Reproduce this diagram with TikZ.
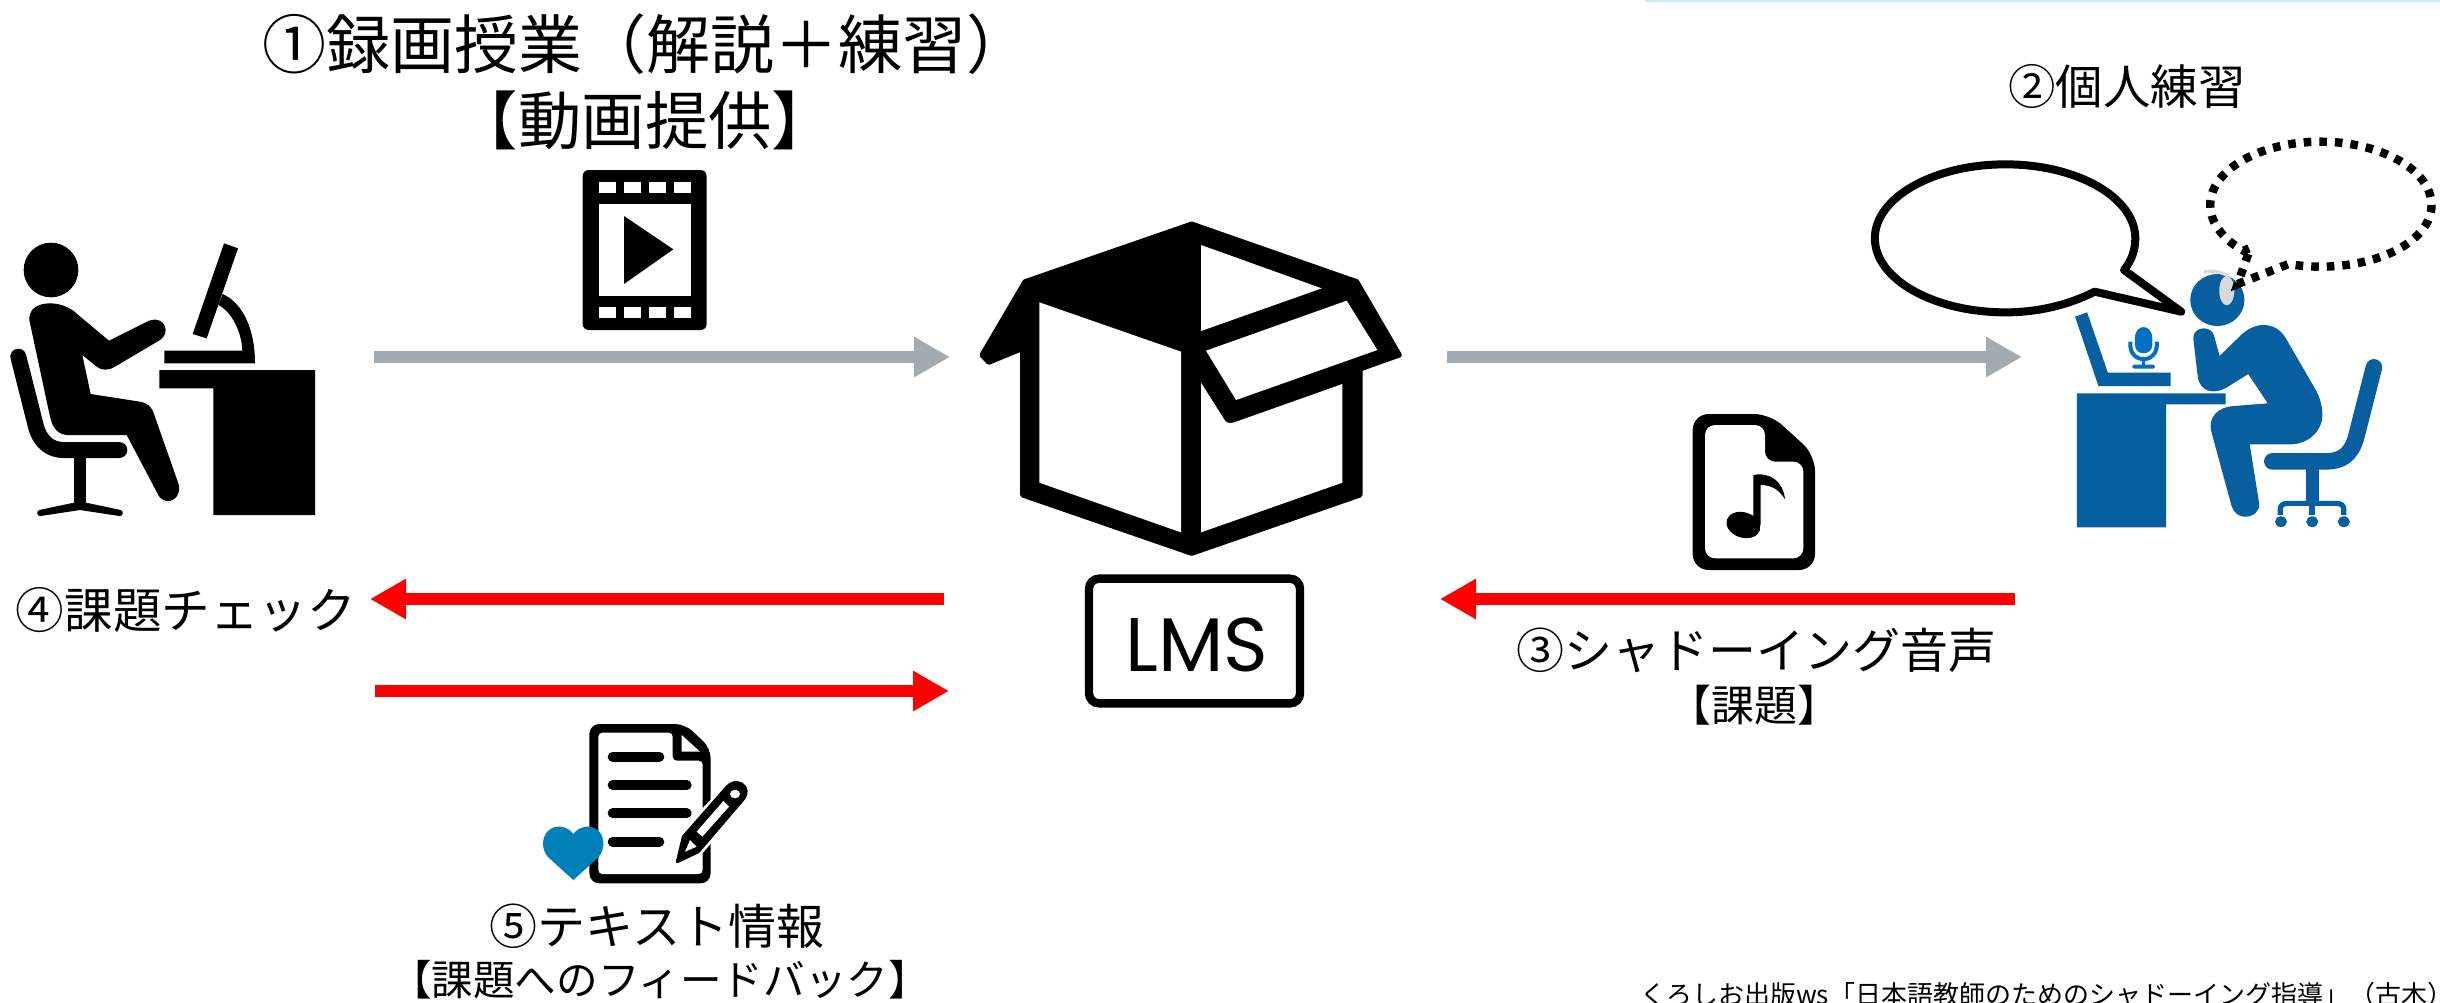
\documentclass[tikz,border=0pt]{standalone}
\usepackage{fontspec}
\setmainfont{Noto Sans CJK JP}
\newfontfamily\lmsfont{Poppins}
\usetikzlibrary{arrows.meta,calc}
\definecolor{bluefig}{HTML}{085FA0}
\definecolor{micblue}{HTML}{0070C0}
\definecolor{heartblue}{HTML}{0080B8}
\definecolor{arrowgrey}{HTML}{A2ABB1}
\definecolor{stripblue}{HTML}{C8EBF9}
\tikzset{
  lbl/.style={inner sep=0pt,outer sep=0pt,text=black,anchor=center},
  greyarrow/.style={draw=arrowgrey,line width=6pt,-{Triangle[length=18pt,width=19pt]}},
  redarrow/.style={draw=red,line width=6pt,-{Triangle[length=18pt,width=19pt]}},
  zthree/.style={x=0.16667pt,y=-0.16667pt},
  zblue/.style={x=0.18818pt,y=-0.16667pt},
}
\begin{document}
\begin{tikzpicture}[x=0.5pt,y=-0.5pt]
\clip (0,0) rectangle (2440,1002);
\fill[white] (0,0) rectangle (2440,1002);
\fill[stripblue] (1645,0) rectangle (2440,2);

% left person
\begin{scope}[shift={(0,220)},zthree]
\fill (153,150) circle[x radius=82,y radius=82];
\fill (88,300) .. controls (86,265) and (115,250) .. (150,250) .. controls (185,250) and (215,265) .. (235,285)
  -- (327,362) -- (445,303) .. controls (475,290) and (497,310) .. (497,328) .. controls (497,345) and (490,352) .. (480,360)
  -- (345,440) .. controls (325,452) and (305,452) .. (290,440) -- (247,405) -- (272,522) -- (420,545)
  .. controls (445,550) and (455,560) .. (463,585) -- (535,790) .. controls (545,820) and (525,843) .. (505,843)
  .. controls (490,843) and (480,835) .. (475,825) -- (380,645) -- (205,645) .. controls (175,645) and (158,625) .. (150,590) -- cycle;
\draw[line width=8pt,line cap=round] (55,410) -- (108,620) .. controls (122,670) and (155,690) .. (190,690) -- (358,690);
\fill (222,700) rectangle (258,855);
\fill (222,848) -- (258,848) -- (362,870) .. controls (372,873) and (370,890) .. (358,888) -- (240,870) -- (122,888) .. controls (110,890) and (108,873) .. (118,870) -- cycle;
\fill (672,70) -- (714,85) -- (620,355) -- (578,342) -- cycle;
\fill (668,222) .. controls (730,250) and (765,330) .. (765,430) -- (493,430) -- (493,392) -- (727,392) .. controls (725,335) and (695,275) .. (655,255) -- cycle;
\fill (478,450) -- (945,450) -- (945,885) -- (640,885) -- (640,505) -- (478,505) -- cycle;
\end{scope}

% film
\begin{scope}[shift={(560,150)},zthree]
\fill[rounded corners=3pt] (68,60) rectangle (440,540);
\foreach \xx in {118,192,267,342}{
  \fill[white] (\xx,95) rectangle ++(50,35);
  \fill[white] (\xx,470) rectangle ++(50,35);
}
\fill[white] (118,162) rectangle (392,437);
\fill (192,198) -- (340,298) -- (192,402) -- cycle;
\end{scope}

% box
\begin{scope}[shift={(960,200)},zthree]
\fill[line join=round,draw=black,line width=2.5pt] (695,72) -- (1190,245) -- (1318,465) -- (1200,507) -- (1200,885) -- (695,1060) -- (188,885) -- (188,445) -- (86,487) -- (66,465) -- (195,245) -- cycle;
\fill[white] (238,307) -- (663,455) -- (663,997) -- (238,848) -- cycle;
\fill[white] (723,135) -- (1085,265) -- (723,393) -- cycle;
\fill[white] (738,452) -- (1160,302) -- (1252,450) -- (828,600) -- cycle;
\fill[white] (723,548) -- (795,662) .. controls (802,670) and (810,670) .. (820,668) -- (1147,552) -- (1147,848) -- (723,997) -- cycle;
\draw[line width=4.2pt,rounded corners=5pt] (387,1136) rectangle (1020,1510);
\node[lbl] (lms) at (710,1335) {\lmsfont\fontsize{38}{38}\selectfont LMS};
\end{scope}

% music file
\begin{scope}[shift={(1670,400)},zthree]
\fill[rounded corners=8pt] (68,42) -- (300,42) -- (435,165) -- (435,510) -- (68,510) -- cycle;
\fill[white,rounded corners=5pt] (105,75) -- (285,75) -- (285,185) -- (400,185) -- (400,475) -- (105,475) -- cycle;
\fill[rotate around={-18:(220,375)}] (220,375) circle[x radius=52,y radius=38];
\fill (250,225) .. controls (300,215) and (340,245) .. (345,298) .. controls (325,265) and (300,255) .. (272,255) -- (272,375) -- (250,375) -- cycle;
\end{scope}

% document
\begin{scope}[shift={(520,700)},zthree]
\fill[rounded corners=5pt] (208,72) -- (495,72) -- (572,145) -- (572,550) -- (208,550) -- cycle;
\fill[white,rounded corners=2pt] (235,98) -- (458,98) -- (458,182) -- (548,182) -- (548,522) -- (235,522) -- cycle;
\fill[white] (485,105) -- (540,155) -- (485,155) -- cycle;
\draw[line width=5pt,line cap=round] (278,170) -- (418,170) (278,255) -- (500,255) (278,340) -- (500,340) (278,425) -- (418,425);
\draw[white,line width=3pt,line join=round] (465,490) -- (485,405) -- (625,255) -- (685,265) -- (670,305) -- (535,460) -- cycle;
\fill[line join=round,draw=black,line width=1.5pt] (472,485) -- (490,410) -- (620,262) .. controls (640,240) and (665,245) .. (675,262) .. controls (682,275) and (678,290) .. (665,303) -- (535,455) -- cycle;
\fill[white] (610,303) -- (627,320) -- (547,410) -- (530,395) -- cycle;
\fill[white] (645,282) circle[x radius=15,y radius=13];
\fill[white] (495,455) -- (510,420) -- (530,440) -- cycle;
\fill[heartblue] (160,540) -- (85,472) .. controls (60,445) and (65,400) .. (95,385) .. controls (120,372) and (148,385) .. (160,402) .. controls (172,385) and (200,372) .. (225,385) .. controls (255,400) and (258,445) .. (235,472) -- cycle;
\end{scope}

% blue person and bubbles
\begin{scope}[shift={(1850,120)},zblue]
\fill[bluefig] (603,820) -- (998,820) -- (998,853) -- (840,853) -- (840,1222) -- (603,1222) -- cycle;
\fill[bluefig] (598,590) -- (630,577) -- (685,758) -- (852,758) -- (852,798) -- (660,798) -- cycle;
% mic
\fill[micblue] (757,655) .. controls (757,610) and (803,610) .. (803,655) -- (803,675) .. controls (803,708) and (757,708) .. (757,675) -- cycle;
\draw[micblue,line width=2pt] (745,665) .. controls (738,735) and (822,735) .. (815,665);
\fill[micblue] (775,712) rectangle (785,735);
\fill[micblue,rounded corners=1pt] (750,734) rectangle (810,746);
% head
\fill[bluefig] (976,540) circle[x radius=72,y radius=78];
\draw[color=black!15,line width=1.6pt] (940,456) .. controls (960,452) and (985,452) .. (1005,470);
\fill[black!15] (1001,512) circle[x radius=20,y radius=44];
% body
\fill[bluefig] (912,655) .. controls (912,635) and (925,625) .. (940,625) .. controls (955,625) and (965,635) .. (968,650)
  -- (982,708) -- (1030,655) .. controls (1050,630) and (1075,615) .. (1098,615) .. controls (1125,615) and (1145,630) .. (1158,655)
  -- (1235,805) .. controls (1250,835) and (1255,860) .. (1255,885) .. controls (1255,935) and (1215,973) .. (1170,973)
  -- (1062,973) -- (1087,1150) .. controls (1090,1175) and (1070,1190) .. (1050,1190) .. controls (1030,1190) and (1018,1175) .. (1013,1155)
  -- (960,935) .. controls (950,890) and (980,860) .. (1020,858) -- (1110,850) -- (1058,762) -- (1000,803)
  .. controls (965,825) and (930,815) .. (924,770) -- cycle;
% chair
\draw[bluefig,line width=8.3pt,line cap=round] (1392,742) -- (1345,950) .. controls (1332,1005) and (1305,1024) .. (1265,1024) -- (1122,1024);
\fill[bluefig] (1212,1040) rectangle (1245,1150);
\draw[bluefig,line width=2.6pt] (1143,1185) -- (1143,1170) .. controls (1143,1155) and (1150,1150) .. (1165,1150) -- (1290,1150) .. controls (1305,1150) and (1312,1155) .. (1312,1170) -- (1312,1185);
\fill[bluefig] (1228,1150) ++(-8,0) rectangle ++(16,35);
\foreach \xx in {1145,1228,1312}{ \fill[bluefig] (\xx,1205) circle[x radius=16,y radius=16]; }
% speech bubble
\draw[line width=4pt,line join=round] (728,450) .. controls (748,422) and (758,390) .. (758,355)
  .. controls (758,232) and (603,133) .. (413,133) .. controls (223,133) and (66,232) .. (66,355)
  .. controls (66,478) and (223,577) .. (413,577) .. controls (505,577) and (585,552) .. (650,515) -- (880,575) -- cycle;
% thought bubble
\draw[line width=4.2pt,dash pattern=on 3.8pt off 4pt] (1060,385) -- (1046,392) .. controls (1000,365) and (957,315) .. (957,255)
  .. controls (957,150) and (1090,65) .. (1250,65) .. controls (1410,65) and (1545,150) .. (1545,255)
  .. controls (1545,360) and (1410,440) .. (1250,440) .. controls (1220,440) and (1190,437) .. (1165,432) -- (1030,492) -- (1060,395);
\end{scope}

% connectors
\coordinate (g1a) at (374,357); \coordinate (g1b) at (950,357);
\coordinate (g2a) at (1447,357); \coordinate (g2b) at (2022,357);
\coordinate (r1a) at (944,599); \coordinate (r1b) at (370,599);
\coordinate (r2a) at (2015,599); \coordinate (r2b) at (1440,599);
\coordinate (r3a) at (375,691); \coordinate (r3b) at (949,691);
\draw[greyarrow] (g1a) -- (g1b);
\draw[greyarrow] (g2a) -- (g2b);
\draw[redarrow] (r1a) -- (r1b);
\draw[redarrow] (r2a) -- (r2b);
\draw[redarrow] (r3a) -- (r3b);

% labels
\node[lbl] (t1) at (646,44) {\fontsize{32}{32}\selectfont ①録画授業（解説＋練習）};
\node[lbl] (t1b) at (645,120) {\fontsize{31.7}{32}\selectfont 【動画提供】};
\node[lbl] (t2) at (2127,86) {\fontsize{23.7}{24}\selectfont ②個人練習};
\node[lbl] (t3) at (1756,650) {\fontsize{24}{24}\selectfont ③シャドーイング音声};
\node[lbl] (t3b) at (1754,705) {\fontsize{21.5}{22}\selectfont 【課題】};
\node[lbl] (t4) at (186,610) {\fontsize{24.3}{25}\selectfont ④課題チェック};
\node[lbl] (t5) at (657,926) {\fontsize{24}{24}\selectfont ⑤テキスト情報};
\node[lbl] (t5b) at (660,980) {\fontsize{20.8}{21}\selectfont 【課題へのフィードバック】};
\node[lbl,anchor=base east] (cite) at (2453,1004) {\fontsize{13}{13}\selectfont くろしお出版ws「日本語教師のためのシャドーイング指導」（古木）};
\end{tikzpicture}
\end{document}
